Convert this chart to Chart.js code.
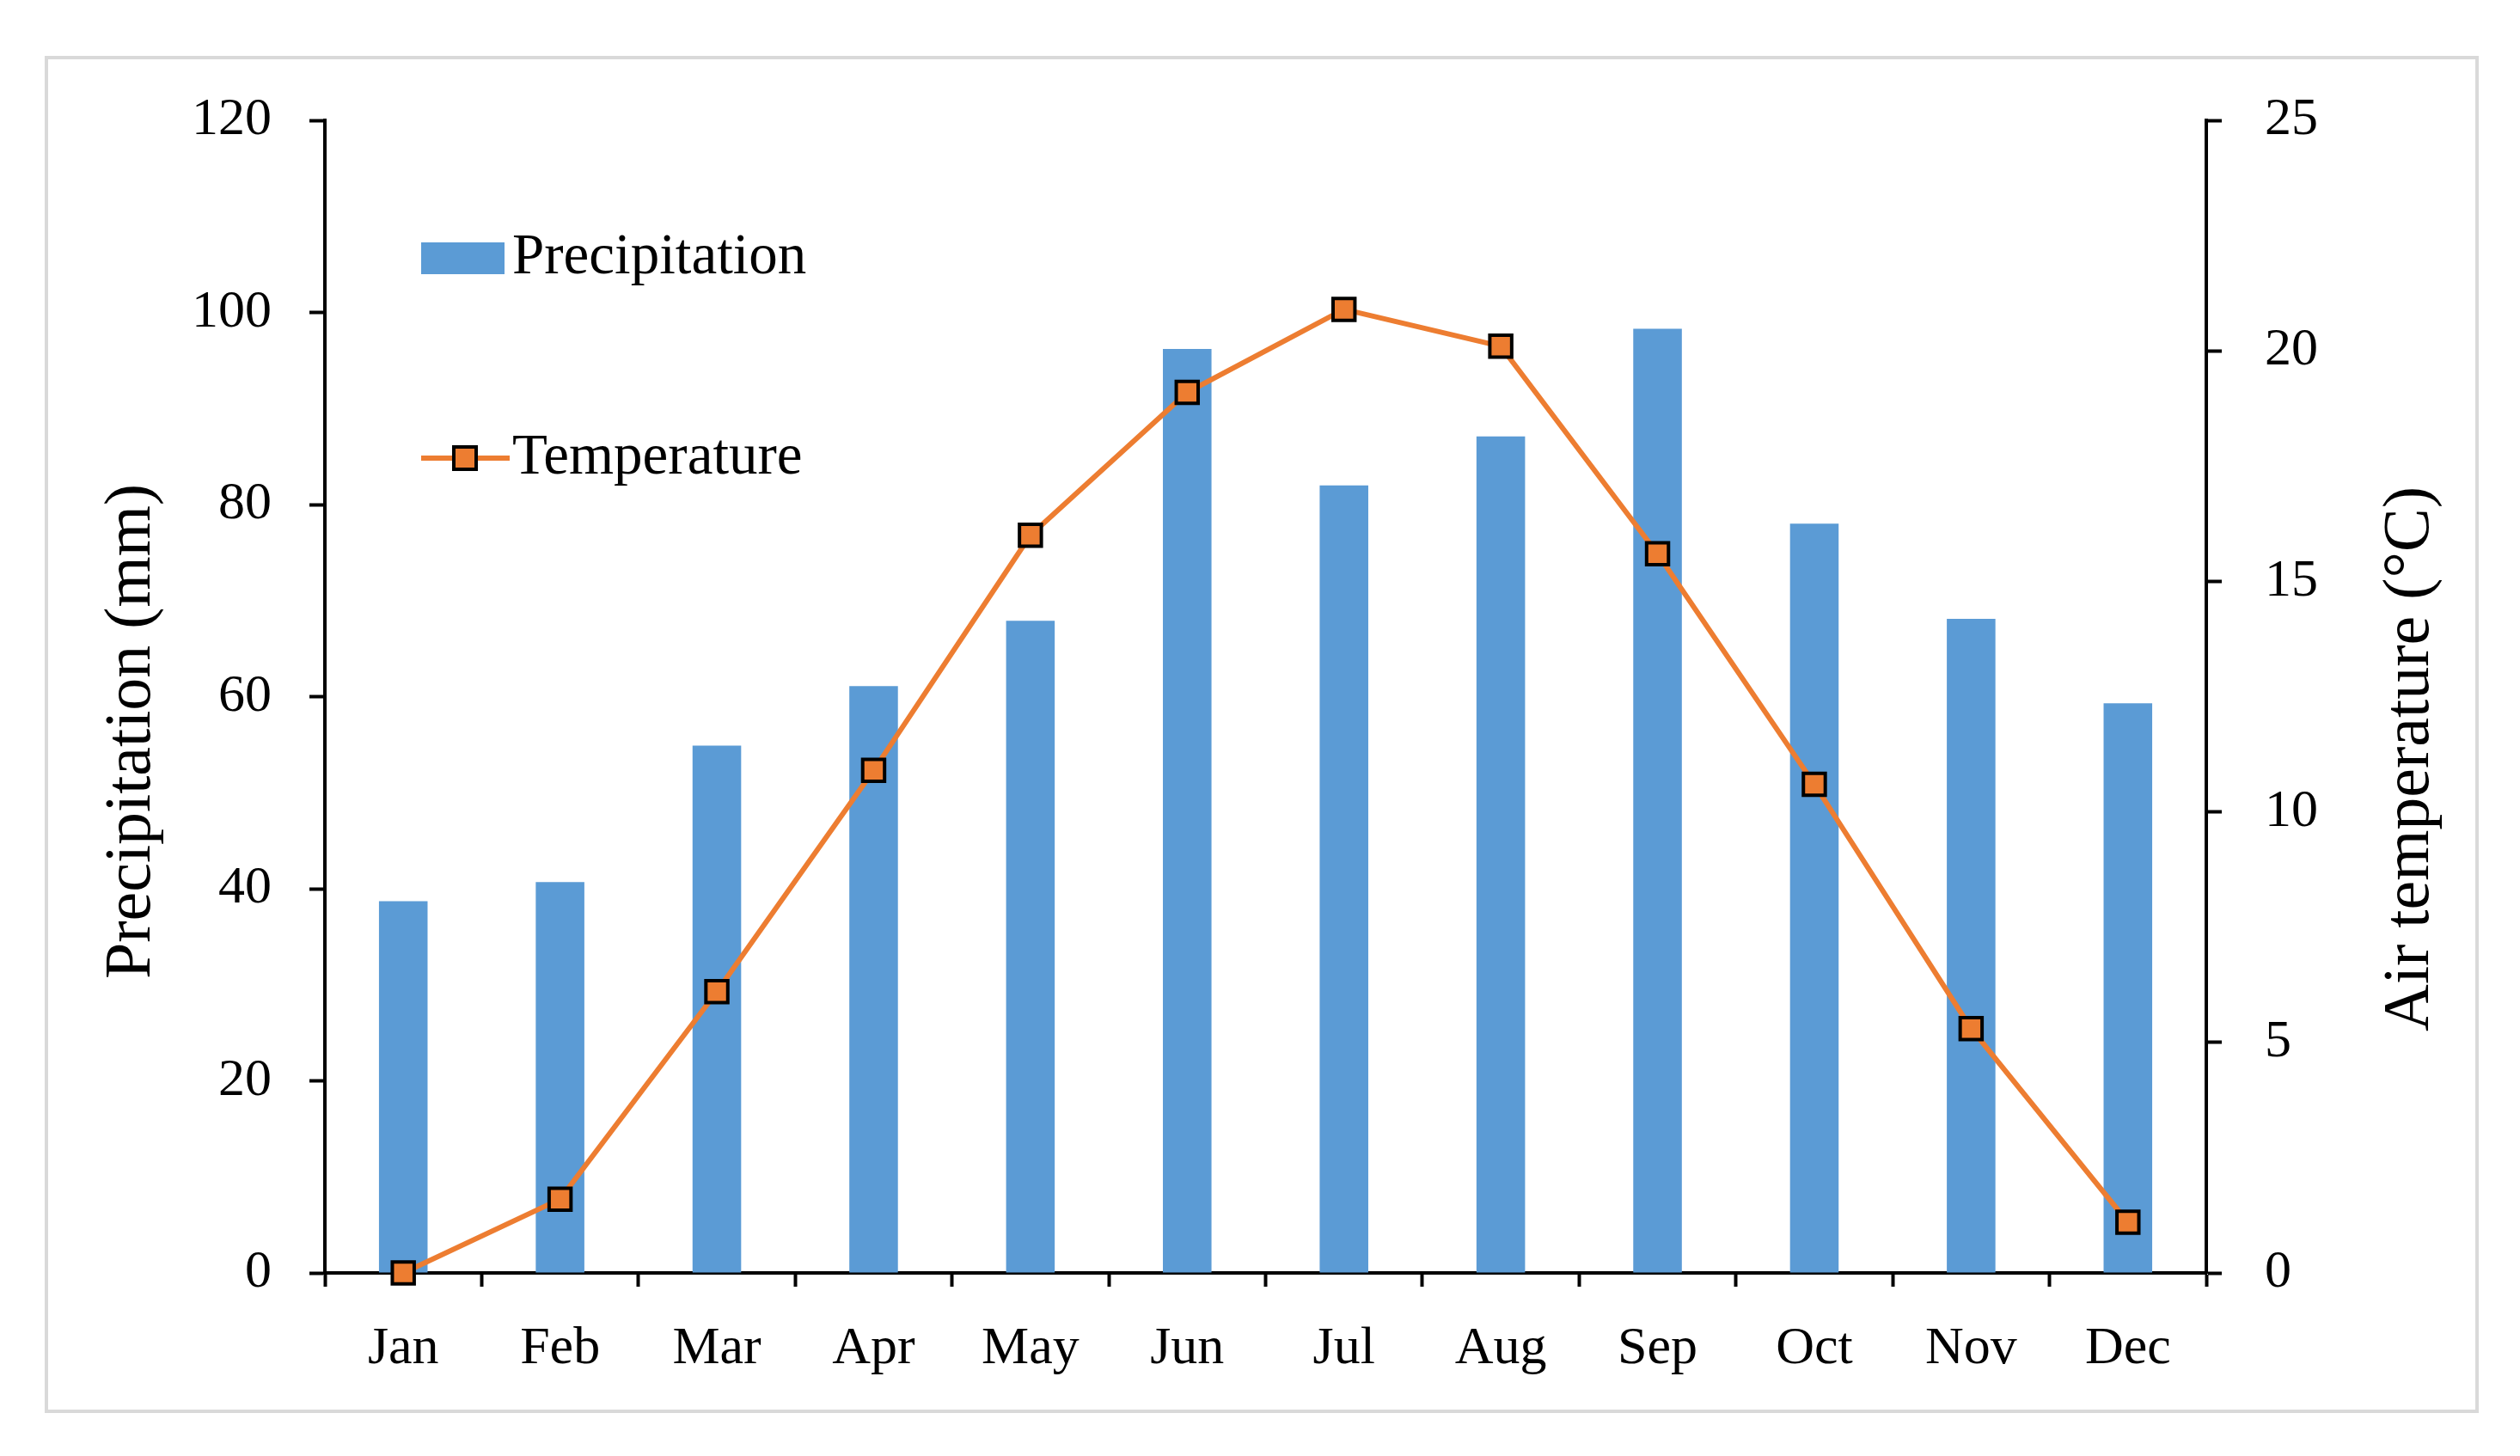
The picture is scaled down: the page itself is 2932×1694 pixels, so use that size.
<!DOCTYPE html>
<html lang="en">
<head>
    <meta charset="UTF-8">
    <title>Precipitation and temperature</title>
    <script src="https://cdn.jsdelivr.net/npm/chart.js"></script>
    <style>
        body { margin: 0; background: #ffffff; }
        .chartCard {
            position: absolute;
            left: 52px; top: 65px;
            width: 2824px; height: 1571px;
            border: 4px solid #d9d9d9;
            background: #ffffff;
        }
    </style>
</head>
<body>
    <div class="chartCard">
        <canvas id="climateChart"></canvas>
    </div>
    <script>
        // values
        const months        = ['Jan','Feb','Mar','Apr','May','Jun','Jul','Aug','Sep','Oct','Nov','Dec'];
        const precipitation = [38.7, 40.7, 54.9, 61.1, 67.9, 96.2, 82.0, 87.1, 98.3, 78.0, 68.1, 59.3];
        const temperature   = [0.0, 1.6, 6.1, 10.9, 16.0, 19.1, 20.9, 20.1, 15.6, 10.6, 5.3, 1.1];
        const seriesNames   = ['Precipitation', 'Temperature'];
        const axisTitles    = ['Precipitation (mm)', 'Air temperature (°C)'];

        const FONT = '"Liberation Serif", "Times New Roman", serif';
        const BLUE = '#5b9bd5';
        const ORANGE = '#ed7d31';

        // legend inside the plot area + both axis titles read bottom-to-top
        const extras = {
            id: 'extras',
            afterDraw(chart) {
                const ctx = chart.ctx;
                const x0 = chart.chartArea.left + 112;
                ctx.save();
                ctx.textBaseline = 'middle';
                ctx.font = '67px ' + FONT;
                // precipitation swatch
                ctx.fillStyle = BLUE;
                ctx.fillRect(x0, 213, 97, 37);
                ctx.fillStyle = '#000';
                ctx.fillText(seriesNames[0], x0 + 106, 231);
                // temperature line + marker
                ctx.strokeStyle = ORANGE;
                ctx.lineWidth = 6;
                ctx.beginPath();
                ctx.moveTo(x0, 464);
                ctx.lineTo(x0 + 103, 464);
                ctx.stroke();
                ctx.fillStyle = ORANGE;
                ctx.fillRect(x0 + 38, 451, 26, 26);
                ctx.strokeStyle = '#000';
                ctx.lineWidth = 4;
                ctx.strokeRect(x0 + 38, 451, 26, 26);
                ctx.fillStyle = '#000';
                ctx.fillText(seriesNames[1], x0 + 106, 464);

                // axis titles
                ctx.font = '76px ' + FONT;
                ctx.textAlign = 'center';
                ctx.save();
                ctx.translate(98, 782);
                ctx.rotate(-Math.PI / 2);
                ctx.fillText(axisTitles[0], 0, 0);
                ctx.restore();
                ctx.save();
                ctx.translate(2749, 814);
                ctx.rotate(-Math.PI / 2);
                ctx.fillText(axisTitles[1], 0, 0);
                ctx.restore();
                ctx.restore();
            }
        };

        const tickGrid = {
            drawOnChartArea: false,
            drawTicks: true,
            tickLength: 18,
            tickWidth: 4,
            tickColor: '#000'
        };

        // fixed width, no extra label overflow padding on top
        function fitY(width) {
            return function (scale) {
                scale.width = width;
                scale.paddingTop = 0;
                scale.paddingBottom = 0;
            };
        }

        const ctx = document.getElementById('climateChart').getContext('2d');
        const climateChart = new Chart(ctx, {
            type: 'bar',
            data: {
                labels: months,
                datasets: [
                    {
                        type: 'line',
                        label: seriesNames[1],
                        data: temperature,
                        yAxisID: 'yT',
                        borderColor: ORANGE,
                        borderWidth: 6,
                        pointStyle: 'rect',
                        pointRadius: 18,
                        pointBackgroundColor: ORANGE,
                        pointBorderColor: '#000',
                        pointBorderWidth: 4,
                        tension: 0,
                        clip: false,
                        order: 0
                    },
                    {
                        type: 'bar',
                        label: seriesNames[0],
                        data: precipitation,
                        yAxisID: 'yP',
                        backgroundColor: BLUE,
                        barPercentage: 1,
                        categoryPercentage: 0.31,
                        order: 1
                    }
                ]
            },
            options: {
                responsive: true,
                maintainAspectRatio: false,
                animation: false,
                layout: { padding: { top: 71, left: 0, right: 0, bottom: 0 } },
                plugins: {
                    legend: { display: false },
                    tooltip: { enabled: false }
                },
                scales: {
                    x: {
                        grid: Object.assign({}, tickGrid, { offset: true, tickLength: 16 }),
                        border: { display: true, color: '#000', width: 4 },
                        ticks: { color: '#000', padding: 36, font: { family: FONT, size: 62 } },
                        afterFit(scale) { scale.height = 159; }
                    },
                    yP: {
                        position: 'left',
                        min: 0,
                        max: 120,
                        ticks: { stepSize: 20, color: '#000', padding: 44, font: { family: FONT, size: 62 } },
                        grid: tickGrid,
                        border: { display: true, color: '#000', width: 4 },
                        afterFit: fitY(322)
                    },
                    yT: {
                        position: 'right',
                        min: 0,
                        max: 25,
                        ticks: { stepSize: 5, color: '#000', padding: 50, font: { family: FONT, size: 62 } },
                        grid: tickGrid,
                        border: { display: true, color: '#000', width: 4 },
                        afterFit: fitY(313)
                    }
                }
            },
            plugins: [extras]
        });
    </script>
</body>
</html>
